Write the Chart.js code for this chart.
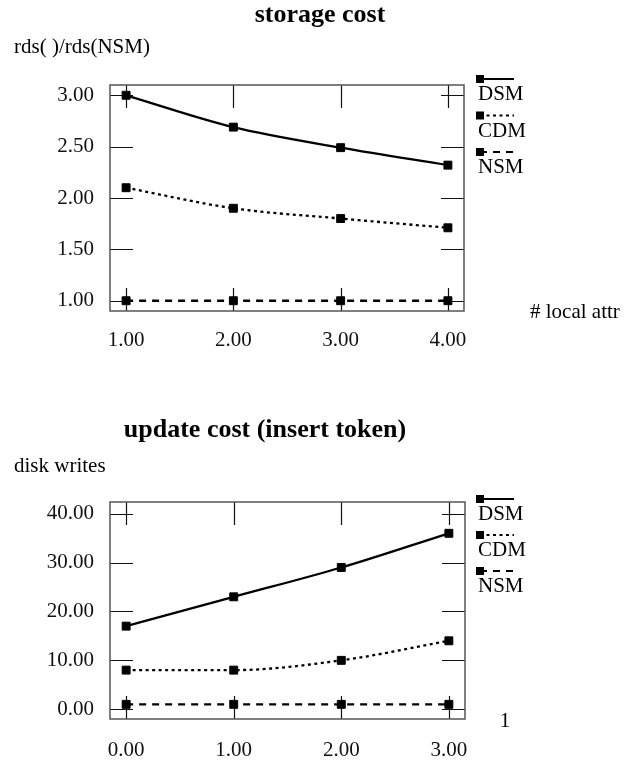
<!DOCTYPE html>
<html>
<head>
<meta charset="utf-8">
<script src="https://cdn.jsdelivr.net/npm/chart.js@4.4.0/dist/chart.umd.min.js"></script>
<style>
    html, body { margin: 0; padding: 0; background: #fff; }
    .box { position: absolute; left: 0; width: 630px; }
    #top { top: 0; height: 380px; }
    #bottom { top: 380px; height: 381px; }
</style>
</head>
<body>
<div class="box" id="top"><canvas id="storage"></canvas></div>
<div class="box" id="bottom"><canvas id="update"></canvas></div>
<script>
const seriesNames = ['DSM', 'CDM', 'NSM']

// storage cost
const storageX = [1, 2, 3, 4]
const storageDSM = [3.0, 2.69, 2.49, 2.32]
const storageCDM = [2.1, 1.9, 1.8, 1.71]
const storageNSM = [1.0, 1.0, 1.0, 1.0]
const storageYTicks = [1.0, 1.5, 2.0, 2.5, 3.0]

// update cost (insert token)
const updateX = [0, 1, 2, 3]
const updateDSM = [17, 23, 29, 36]
const updateCDM = [8, 8, 10, 14]
const updateNSM = [1, 1, 1, 1]
const updateYTicks = [0, 10, 20, 30, 40]

const SERIF = "'Liberation Serif', 'DejaVu Serif', serif"
const dashes = [[], [3, 3.5], [7, 6]]

;(() => {
    // box round the plot + short inward tick marks on all four sides
    const frame = {
        id: 'frame',
        beforeDatasetsDraw(chart) {
            const { ctx, chartArea: a, scales } = chart
            const len = 23
            ctx.save()
            ctx.strokeStyle = '#111'
            ctx.lineWidth = 1.2
            ctx.beginPath()
            scales.y.ticks.forEach((t) => {
                const y = Math.round(scales.y.getPixelForValue(t.value)) + 0.5
                ctx.moveTo(a.left, y)
                ctx.lineTo(a.left + len, y)
                ctx.moveTo(a.right - len, y)
                ctx.lineTo(a.right, y)
            })
            scales.x.ticks.forEach((t) => {
                const x = Math.round(scales.x.getPixelForValue(t.value)) + 0.5
                ctx.moveTo(x, a.top)
                ctx.lineTo(x, a.top + len)
                ctx.moveTo(x, a.bottom - len)
                ctx.lineTo(x, a.bottom)
            })
            ctx.stroke()
            ctx.strokeStyle = '#555'
            ctx.lineWidth = 1.5
            ctx.strokeRect(a.left, a.top, a.right - a.left, a.bottom - a.top)
            ctx.restore()
        },
    }

    // free texts + the legend drawn to the right of the plot
    const extras = {
        id: 'extras',
        afterDraw(chart, args, opts) {
            const { ctx } = chart
            ctx.save()
            ctx.fillStyle = '#000'
            ctx.textBaseline = 'alphabetic'
            ;(opts.texts || []).forEach((t) => {
                ctx.font = `${t.bold ? 'bold ' : ''}${t.size}px ${SERIF}`
                ctx.textAlign = t.align || 'left'
                ctx.fillText(t.text, t.x, t.y)
            })

            const lg = opts.legend
            ctx.font = `21px ${SERIF}`
            ctx.textAlign = 'left'
            chart.data.datasets.forEach((ds, i) => {
                const y = lg.y + i * lg.step
                ctx.strokeStyle = '#000'
                ctx.lineWidth = 2.2
                ctx.setLineDash(ds.borderDash || [])
                ctx.beginPath()
                ctx.moveTo(lg.x, y)
                ctx.lineTo(lg.x + 34, y)
                ctx.stroke()
                ctx.setLineDash([])
                ctx.fillRect(lg.x - 4, y - 4, 8, 8)
                ctx.fillText(ds.label, lg.x - 2, y + 21)
            })
            ctx.restore()
        },
    }

    const makeChart = (canvasId, xs, series, yTicks, cfg) => {
        new Chart(document.getElementById(canvasId), {
            type: 'line',
            data: {
                datasets: series.map((vals, i) => ({
                    label: seriesNames[i],
                    data: vals.map((v, k) => ({ x: xs[k], y: v })),
                    borderColor: '#000',
                    backgroundColor: '#000',
                    borderWidth: 2.3,
                    borderDash: dashes[i],
                    cubicInterpolationMode: 'monotone',
                    pointStyle: 'rect',
                    pointRadius: 5.6,
                    pointBorderWidth: 1,
                    fill: false,
                })),
            },
            options: {
                responsive: true,
                maintainAspectRatio: false,
                animation: false,
                layout: { padding: { top: cfg.top, right: cfg.right, left: 0, bottom: 0 } },
                plugins: {
                    legend: { display: false },
                    title: { display: false },
                    tooltip: { enabled: false },
                    extras: { texts: cfg.texts, legend: cfg.legend },
                },
                scales: {
                    x: {
                        type: 'linear',
                        min: cfg.xMin,
                        max: cfg.xMax,
                        grid: { display: false },
                        border: { display: false },
                        ticks: {
                            color: '#111',
                            font: { family: SERIF, size: 21 },
                            padding: cfg.xPad,
                            maxRotation: 0,
                            autoSkip: false,
                            callback: (v) => v.toFixed(2),
                        },
                        afterBuildTicks: (s) => { s.ticks = xs.map((v) => ({ value: v })) },
                        afterFit: (s) => { s.height = cfg.xHeight },
                    },
                    y: {
                        min: cfg.yMin,
                        max: cfg.yMax,
                        grid: { display: false },
                        border: { display: false },
                        ticks: {
                            color: '#111',
                            font: { family: SERIF, size: 21 },
                            padding: 8,
                            callback: (v) => v.toFixed(2),
                        },
                        afterBuildTicks: (s) => { s.ticks = yTicks.map((v) => ({ value: v })) },
                        afterFit: (s) => { s.width = 110 },
                    },
                },
            },
            plugins: [frame, extras],
        })
    }

    makeChart('storage', storageX, [storageDSM, storageCDM, storageNSM], storageYTicks, {
        top: 85, right: 166, xHeight: 69, xPad: 9,
        xMin: 0.85, xMax: 4.15, yMin: 0.9, yMax: 3.1,
        texts: [
            { text: 'storage cost', x: 320, y: 22, size: 26, bold: true, align: 'center' },
            { text: 'rds( )/rds(NSM)', x: 14, y: 53, size: 21 },
            { text: '# local attr', x: 530, y: 318, size: 21 },
        ],
        legend: { x: 480, y: 79, step: 36.5 },
    })

    makeChart('update', updateX, [updateDSM, updateCDM, updateNSM], updateYTicks, {
        top: 122, right: 165, xHeight: 42, xPad: 11,
        xMin: -0.15, xMax: 3.15, yMin: -2, yMax: 42.4,
        texts: [
            { text: 'update cost (insert token)', x: 265, y: 57, size: 26, bold: true, align: 'center' },
            { text: 'disk writes', x: 14, y: 92, size: 21 },
            { text: '1', x: 505, y: 347, size: 21, align: 'center' },
        ],
        legend: { x: 480, y: 119, step: 36 },
    })
})()
</script>
</body>
</html>
